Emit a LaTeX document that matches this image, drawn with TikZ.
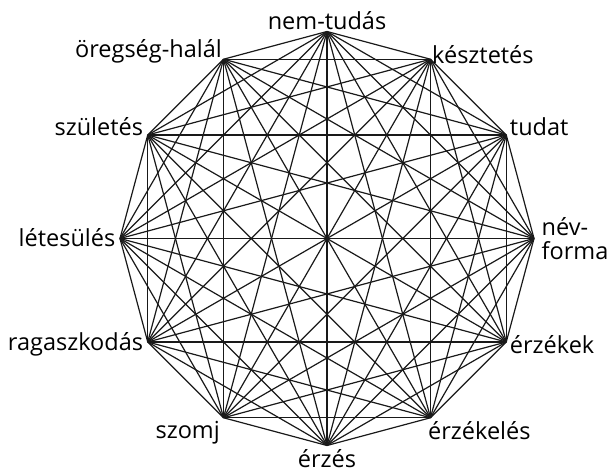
\documentclass[tikz,border=0pt]{standalone}
\usepackage{fontspec}
\setmainfont{Open Sans}
\usetikzlibrary{positioning}

\begin{document}
\begin{tikzpicture}[x=1pt,y=1pt,
    lbl/.style={font=\fontsize{23.5}{24}\selectfont, inner sep=1.5pt},
    edge/.style={black!90, line width=1.2pt}
  ]
  \useasboundingbox (-327,-237.5) rectangle (286,238.5);
  % vertices of the twelve-gon
  \foreach \i/\a in {1/90, 2/60, 3/30, 4/0, 5/-30, 6/-60,
                     7/-90, 8/-120, 9/-150, 10/180, 11/150, 12/120}
    \coordinate (v\i) at (\a:207);
  % every pair joined
  \foreach \i in {1,...,11} {
    \pgfmathtruncatemacro\k{\i+1}
    \foreach \j in {\k,...,12}
      \draw[edge] (v\i)--(v\j);
  }
  % labels
  \node[lbl, above=0pt of v1] (nemtudas) {nem-tudás};
  \node[lbl, anchor=south west] (keszt) at ([xshift=0pt,yshift=-6pt]v2) {késztetés};
  \node[lbl, anchor=west] (tudat) at ([xshift=2pt,yshift=8pt]v3) {tudat};
  \node[lbl, anchor=west, align=left] (nevforma) at ([xshift=6pt]v4) {név-\\forma};
  \node[lbl, anchor=west] (erzekek) at ([xshift=2pt,yshift=-3pt]v5) {érzékek};
  \node[lbl, anchor=north west] (erzekeles) at ([xshift=-4pt,yshift=-2pt]v6) {érzékelés};
  \node[lbl, below=2pt of v7] (erzes) {érzés};
  \node[lbl, anchor=north east] (szomj) at ([xshift=-2pt,yshift=-2pt]v8) {szomj};
  \node[lbl, anchor=east] (ragasz) at ([xshift=-3pt,yshift=-2pt]v9) {ragaszkodás};
  \node[lbl, anchor=east] (letes) at ([xshift=-3pt,yshift=1pt]v10) {létesülés};
  \node[lbl, anchor=east] (szul) at ([xshift=-3pt,yshift=8pt]v11) {születés};
  \node[lbl, anchor=south east] (oreg) at ([xshift=0pt,yshift=-6pt]v12) {öregség-halál};
\end{tikzpicture}
\end{document}
